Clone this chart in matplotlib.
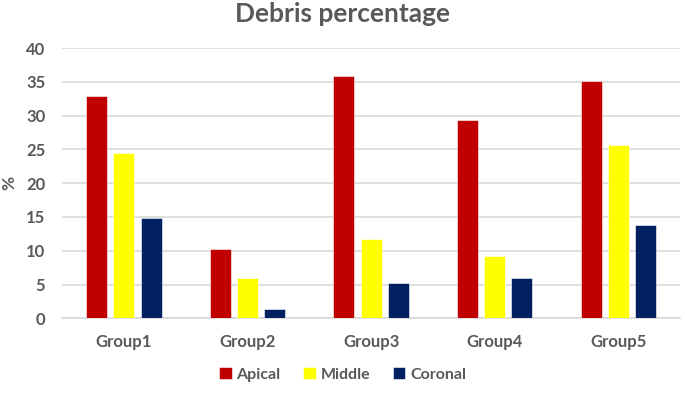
import matplotlib.pyplot as plt
import numpy as np

groups = ["Group1", "Group2", "Group3", "Group4", "Group5"]
apical = [32.9, 10.3, 35.8, 29.3, 35.1]
middle = [24.4, 5.9, 11.8, 9.2, 25.7]
coronal = [14.8, 1.4, 5.3, 6.0, 13.8]

series = [("Apical", apical, "#C00000"),
          ("Middle", middle, "#FFFF00"),
          ("Coronal", coronal, "#002060")]

plt.rcParams['font.family'] = ['Lato', 'DejaVu Sans']
text_col = "#595959"

fig = plt.figure(figsize=(6.85, 3.94), dpi=100)
ax = fig.add_axes([0.0905, 0.192, 0.9025, 0.686])

x = np.arange(len(groups))
w = 0.17
step = 0.22
for i, (name, vals, col) in enumerate(series):
    ax.bar(x + (i - 1) * step, vals, w, color=col, label=name,
           edgecolor="white", linewidth=0.4, zorder=3)

ax.set_xlim(-0.5, len(groups) - 0.5)
ax.set_ylim(0, 40)
ax.set_yticks(range(0, 41, 5))
ax.set_xticks(x)
ax.set_xticklabels(groups)
ax.grid(axis="y", color="#D9D9D9", linewidth=1.2, zorder=0)
for s in ["top", "right", "left"]:
    ax.spines[s].set_visible(False)
ax.spines["bottom"].set_color("#D9D9D9")
ax.spines["bottom"].set_linewidth(1.2)
ax.tick_params(length=0, colors=text_col, labelsize=12, pad=12)
for lab in ax.get_xticklabels() + ax.get_yticklabels():
    lab.set_fontweight("bold")
ax.tick_params(axis="x", pad=11)

fig.text(0.014, 0.535, "%", rotation=90, color=text_col, fontsize=12.5,
         fontweight="bold", ha="center", va="center")
fig.suptitle("Debris percentage", x=0.5, y=0.995, color=text_col,
             fontsize=19, fontweight="bold")

fig.legend(loc="lower center", bbox_to_anchor=(0.5, -0.005), ncol=3,
           frameon=False, handlelength=0.8, handleheight=0.8,
           handletextpad=0.3, columnspacing=1.4,
           prop={"weight": "bold", "size": 11.5}, labelcolor=text_col)

fig.savefig("out.png", dpi=100)
